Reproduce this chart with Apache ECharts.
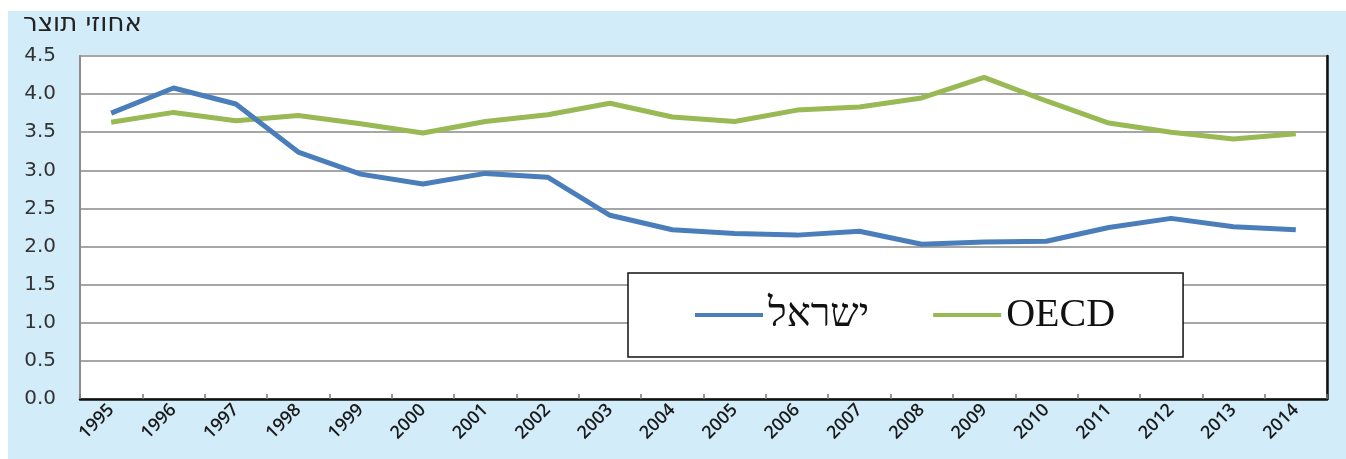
<!DOCTYPE html>
<html><head><meta charset="utf-8">
<script src="https://cdn.jsdelivr.net/npm/echarts@6/dist/echarts.min.js"></script>
<style>html,body{margin:0;padding:0;background:#fff;}#c{width:1346px;height:459px;}</style>
</head><body><div id="c"></div>
<script>
const years = ['1995','1996','1997','1998','1999','2000','2001','2002','2003','2004','2005','2006','2007','2008','2009','2010','2011','2012','2013','2014'];
const israel = [3.75,4.08,3.87,3.24,2.95,2.82,2.96,2.91,2.41,2.22,2.17,2.15,2.20,2.03,2.06,2.07,2.25,2.37,2.26,2.22];
const oecd = [3.63,3.76,3.65,3.72,3.61,3.49,3.64,3.73,3.88,3.70,3.64,3.79,3.83,3.95,4.22,3.91,3.62,3.50,3.41,3.48];
const yTicks = ['0.0','0.5','1.0','1.5','2.0','2.5','3.0','3.5','4.0','4.5'];
const unitLabel = 'אחוזי תוצר';
const seriesNames = ['ישראל','OECD'];

const chart = echarts.init(document.getElementById('c'), null, {renderer:'canvas'});
chart.setOption({
  backgroundColor: '#fff',
  animation: false,
  graphic: [
    {type:'rect', z:-10, shape:{x:8,y:11,width:1338,height:448}, style:{fill:'#d3ecf9'}},
    {type:'text', left:23, top:11, style:{text:unitLabel, font:'26px "DejaVu Sans"', fill:'#222'}}
  ],
  grid: {left:80, right:19, top:56, bottom:60, show:true, backgroundColor:'#fff', borderColor:'#8c8c8c', borderWidth:1.5},
  legend: {
    left: 628, top: 273,
    backgroundColor:'#fff', borderColor:'#111', borderWidth:1.5,
    padding:[22,68,22,67],
    itemWidth: 68, itemHeight: 4, itemGap: 64,
    icon: 'rect',
    textStyle: {fontFamily:'"Liberation Serif"', fontSize:40, color:'#111'},
    data: seriesNames
  },
  xAxis: {
    type:'category', data: years, boundaryGap:true,
    axisLine:{show:true, lineStyle:{color:'#111', width:2.5}},
    axisTick:{show:true, inside:true, length:5, interval:0, lineStyle:{color:'#777', width:1.5}},
    axisLabel:{rotate:45, interval:0, fontFamily:'"Open Sans"', fontWeight:600, fontSize:18, color:'#1a1a1a', margin:8},
    splitLine:{show:false}
  },
  yAxis: [{
    type:'value', min:0, max:4.5, interval:0.5,
    axisLine:{show:true, lineStyle:{color:'#8c8c8c', width:2}},
    axisTick:{show:false},
    axisLabel:{fontFamily:'"DejaVu Sans"', fontSize:20, color:'#333', margin:24,
      formatter: (v)=> yTicks[Math.round(v/0.5)]},
    splitLine:{show:true, lineStyle:{color:'#a6a6a6', width:2}}
  },{
    type:'value', min:0, max:4.5, interval:0.5, position:'right',
    axisLine:{show:true, lineStyle:{color:'#111', width:2.5}},
    axisTick:{show:false}, axisLabel:{show:false}, splitLine:{show:false}
  }],
  series: [
    {name:seriesNames[0], type:'line', data:israel, symbol:'none', lineStyle:{color:'#4a7ebb', width:5}, itemStyle:{color:'#4a7ebb'}, z:3},
    {name:seriesNames[1], type:'line', data:oecd, symbol:'none', lineStyle:{color:'#98b954', width:5}, itemStyle:{color:'#98b954'}, z:2}
  ]
});
</script></body></html>
